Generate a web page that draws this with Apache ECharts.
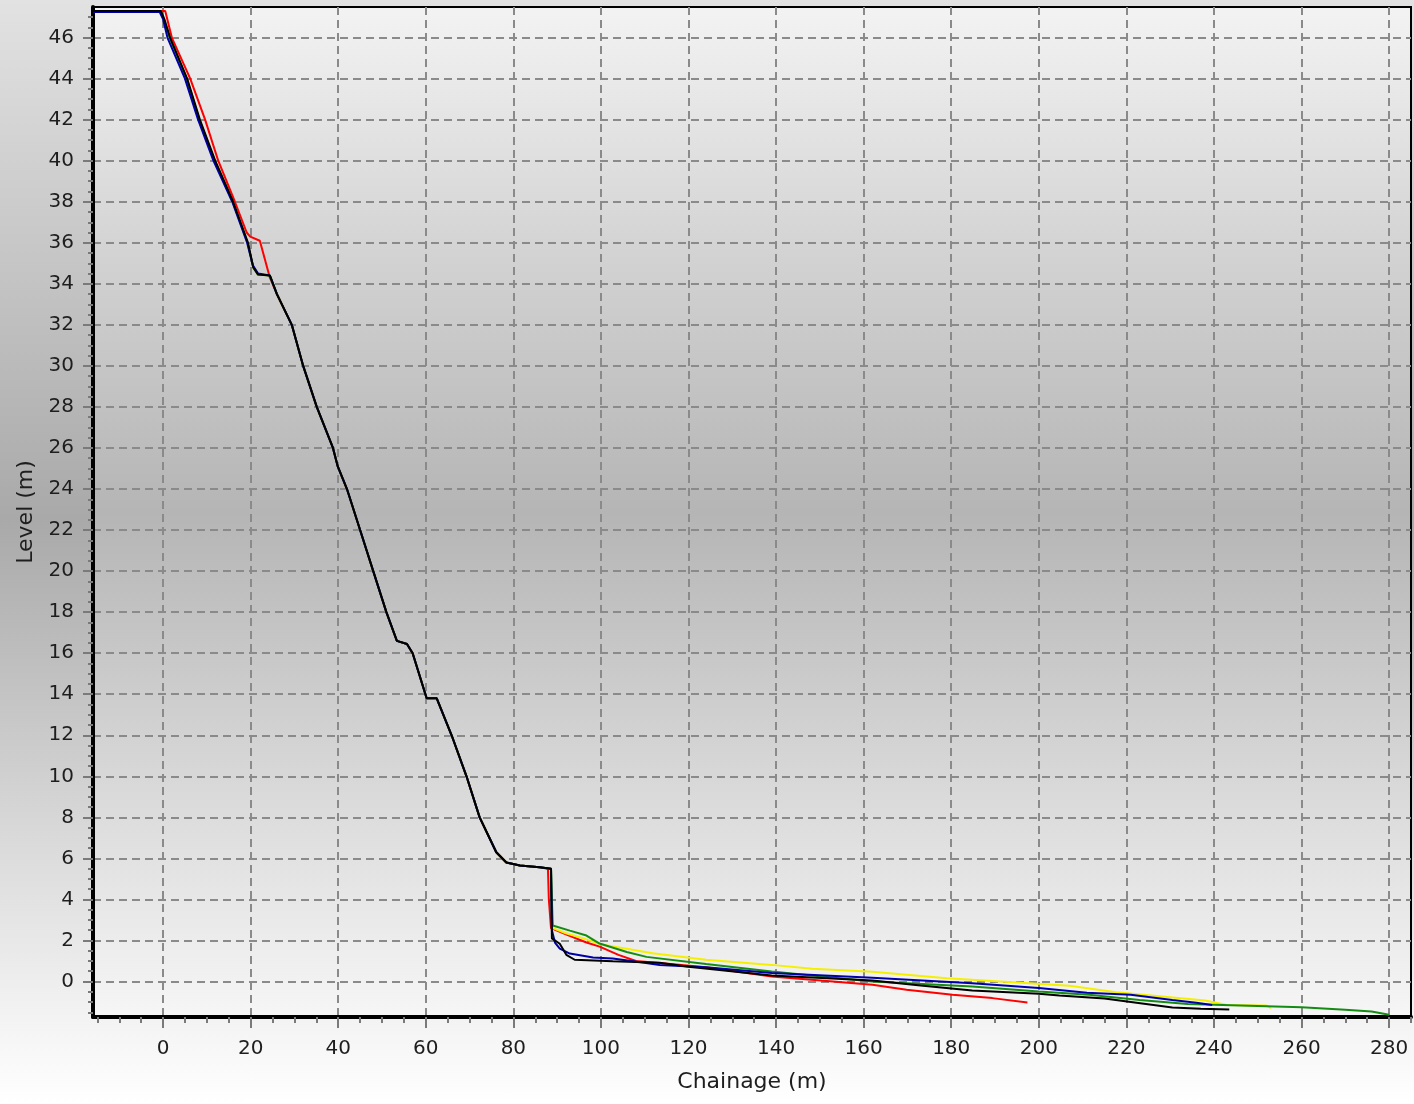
<!DOCTYPE html>
<html>
<head>
<meta charset="utf-8">
<script src="https://cdn.jsdelivr.net/npm/echarts@6/dist/echarts.min.js"></script>
<style>
html,body{margin:0;padding:0;}
#chart{width:1414px;height:1104px;background:linear-gradient(to bottom,#e2e2e2 0%,#c4c4c4 25%,#a9a9a9 47%,#d8d8d8 75%,#ffffff 100%);}
</style>
</head>
<body>
<div id="chart"></div>
<script>
// Tick labels
const xTickValues = [0,20,40,60,80,100,120,140,160,180,200,220,240,260,280];
const xMinorValues = [-15,-10,-5,5,10,15,25,30,35,45,50,55,65,70,75,85,90,95,105,110,115,125,130,135,145,150,155,165,170,175,185,190,195,205,210,215,225,230,235,245,250,255,265,270,275,285];
const yTickValues = [0,2,4,6,8,10,12,14,16,18,20,22,24,26,28,30,32,34,36,38,40,42,44,46];
const yMinorValues = [-1.5,-1,-0.5,0.5,1,1.5,2.5,3,3.5,4.5,5,5.5,6.5,7,7.5,8.5,9,9.5,10.5,11,11.5,12.5,13,13.5,14.5,15,15.5,16.5,17,17.5,18.5,19,19.5,20.5,21,21.5,22.5,23,23.5,24.5,25,25.5,26.5,27,27.5,28.5,29,29.5,30.5,31,31.5,32.5,33,33.5,34.5,35,35.5,36.5,37,37.5,38.5,39,39.5,40.5,41,41.5,42.5,43,43.5,44.5,45,45.5,46.5,47];

// Series: [chainage (m), level (m)]
const redProfile = [[-16,47.3],[0.5,47.3],[2,46],[6.2,44],[9.6,42],[12.6,40],[16.4,38],[19.1,36.5],[19.9,36.3],[22.1,36.1],[24.4,34.3],[26,33.5],[29.4,32],[32,30],[35.1,28],[38.8,26],[39.9,25.1],[42,24],[45,22],[48,20],[51,18],[53.4,16.6],[55.7,16.45],[57,16],[60.2,13.8],[62.5,13.8],[65.9,12],[69.3,10],[72.3,8],[76.1,6.3],[78.4,5.8],[81.5,5.65],[86,5.57],[87.9,5.5],[88.1,4.0],[88.6,2.6],[92,2.3],[96.7,1.9],[99.7,1.7],[104,1.3],[108,1.0],[113.4,0.9],[124,0.7],[139,0.24],[162,-0.16],[169.8,-0.4],[180.3,-0.65],[189.4,-0.81],[197.4,-1.02]];
const yellowProfile = [[-16,47.3],[-0.5,47.3],[1.4,46],[5.3,44],[8.3,42],[11.8,40],[15.9,38],[19.3,36],[20.6,34.8],[21.7,34.45],[24.4,34.4],[26,33.5],[29.4,32],[32,30],[35.1,28],[38.8,26],[39.9,25.1],[42,24],[45,22],[48,20],[51,18],[53.4,16.6],[55.7,16.45],[57,16],[60.2,13.8],[62.5,13.8],[65.9,12],[69.3,10],[72.3,8],[76.1,6.3],[78.4,5.8],[81.5,5.65],[86,5.57],[88.6,5.5],[88.8,3.2],[89,2.6],[92,2.35],[96,2.1],[100,1.8],[105.9,1.6],[111.8,1.38],[124,1.06],[139,0.81],[148.3,0.62],[162,0.47],[179,0.16],[195,-0.05],[207,-0.21],[217.7,-0.52],[238,-0.93],[243,-1.15],[252,-1.17],[253,-1.3]];
const greenProfile = [[-16,47.3],[-0.5,47.3],[1.5,46],[5.4,44],[8.3,42],[11.8,40],[15.9,38],[19.3,36],[20.6,34.8],[21.7,34.45],[24.4,34.4],[26,33.5],[29.4,32],[32,30],[35.1,28],[38.8,26],[39.9,25.1],[42,24],[45,22],[48,20],[51,18],[53.4,16.6],[55.7,16.45],[57,16],[60.2,13.8],[62.5,13.8],[65.9,12],[69.3,10],[72.3,8],[76.1,6.3],[78.4,5.8],[81.5,5.65],[86,5.57],[88.6,5.5],[88.8,4.0],[89,2.73],[92.9,2.48],[96.7,2.24],[99.7,1.85],[105.9,1.44],[110.4,1.2],[124,0.85],[139,0.49],[162,0.0],[184.8,-0.24],[200,-0.49],[211.5,-0.65],[223,-0.9],[234,-1.1],[246,-1.17],[260,-1.25],[270,-1.38],[276,-1.46],[280,-1.62]];
const blueProfile = [[-16,47.25],[-0.8,47.25],[0,46.9],[1.0,46],[5,44],[8,42],[11.5,40],[15.8,38],[19.2,36],[20.5,34.9],[21.7,34.5],[24.4,34.4],[26,33.5],[29.4,32],[32,30],[35.1,28],[38.8,26],[39.9,25.1],[42,24],[45,22],[48,20],[51,18],[53.4,16.6],[55.7,16.45],[57,16],[60.2,13.8],[62.5,13.8],[65.9,12],[69.3,10],[72.3,8],[76.1,6.3],[78.4,5.8],[81.5,5.65],[86,5.57],[88.6,5.5],[88.8,2.5],[89.5,1.9],[90.6,1.6],[92.9,1.36],[98.2,1.17],[102.7,1.12],[109.5,0.93],[113.4,0.8],[124,0.7],[139,0.41],[162,0.18],[184.8,-0.08],[200,-0.32],[211,-0.55],[221,-0.65],[230.5,-0.9],[236,-1.03],[239.6,-1.14]];
const blackProfile = [[-16,47.3],[-0.5,47.3],[0.3,46.9],[1.6,46],[5.5,44],[8.4,42],[11.9,40],[16,38],[19.4,36],[20.6,34.8],[21.7,34.45],[24.4,34.4],[26,33.5],[29.4,32],[32,30],[35.1,28],[38.8,26],[39.9,25.1],[42,24],[45,22],[48,20],[51,18],[53.4,16.6],[55.7,16.45],[57,16],[60.2,13.8],[62.5,13.8],[65.9,12],[69.3,10],[72.3,8],[76.1,6.3],[78.4,5.8],[81.5,5.65],[86,5.57],[88.6,5.5],[88.8,2.1],[90.6,1.84],[92.1,1.3],[94,1.06],[102.7,0.99],[113.4,0.91],[120,0.72],[139,0.29],[162,0.05],[173,-0.2],[184.8,-0.44],[200,-0.6],[204.7,-0.68],[215,-0.83],[230.5,-1.27],[237,-1.33],[243.5,-1.37]];

const seriesDefs = [
  {name:'Red', data:redProfile, color:'#ff0000'},
  {name:'Yellow', data:yellowProfile, color:'#f4f000'},
  {name:'Green', data:greenProfile, color:'#148c14'},
  {name:'Blue', data:blueProfile, color:'#0000a8'},
  {name:'Black', data:blackProfile, color:'#000000'}
];

const chart = echarts.init(document.getElementById('chart'), null, {renderer:'canvas'});
const labelFont = {fontFamily:'DejaVu Sans', fontSize:20, color:'#1e1e1e'};
const gridLine = {show:true, lineStyle:{type:[8,5], color:'#8a8a8a', width:2}};
const majorTick = {show:true, length:10, lineStyle:{color:'#7a7a7a', width:2}};
const minorTick = {show:true, length:6, lineStyle:{color:'#7a7a7a', width:2}};

chart.setOption({
  backgroundColor:'transparent',
  animation:false,
  grid:{
    left:93, top:7, width:1318, height:1010,
    show:true, borderColor:'#000', borderWidth:2,
    backgroundColor:{type:'linear',x:0,y:0,x2:0,y2:1,colorStops:[
      {offset:0,color:'#f3f3f3'},{offset:0.25,color:'#d2d2d2'},{offset:0.5,color:'#b5b5b5'},{offset:0.75,color:'#d6d6d6'},{offset:1,color:'#f6f6f6'}]}
  },
  xAxis:[{
    type:'value', min:-16, max:285, position:'bottom',
    name:'Chainage (m)', nameLocation:'middle', nameGap:54,
    nameTextStyle:{fontFamily:'DejaVu Sans', fontSize:22, color:'#1e1e1e'},
    axisLine:{show:true, onZero:false, lineStyle:{color:'#000', width:4}},
    axisTick:Object.assign({customValues:xTickValues}, majorTick, {length:11}),
    axisLabel:Object.assign({customValues:xTickValues, margin:22}, labelFont),
    splitLine:gridLine
  },{
    type:'value', min:-16, max:285, position:'bottom',
    axisLine:{show:false, onZero:false},
    axisTick:Object.assign({customValues:xMinorValues}, minorTick),
    axisLabel:{show:false}, splitLine:{show:false}
  }],
  yAxis:[{
    type:'value', min:-1.73, max:47.49, position:'left',
    name:'Level (m)', nameLocation:'middle', nameGap:54,
    nameTextStyle:{fontFamily:'DejaVu Sans', fontSize:22, color:'#1e1e1e'},
    axisLine:{show:true, onZero:false, lineStyle:{color:'#000', width:4}},
    axisTick:Object.assign({customValues:yTickValues}, majorTick),
    axisLabel:Object.assign({customValues:yTickValues, margin:19}, labelFont),
    splitLine:gridLine
  },{
    type:'value', min:-1.73, max:47.49, position:'left',
    axisLine:{show:false, onZero:false},
    axisTick:Object.assign({customValues:yMinorValues}, minorTick, {length:5}),
    axisLabel:{show:false}, splitLine:{show:false}
  }],
  series: seriesDefs.map(s => ({
    type:'line', name:s.name, data:s.data, xAxisIndex:0, yAxisIndex:0,
    showSymbol:false, symbol:'none', clip:true,
    lineStyle:{color:s.color, width:2}, itemStyle:{color:s.color}
  }))
});
</script>
</body>
</html>
